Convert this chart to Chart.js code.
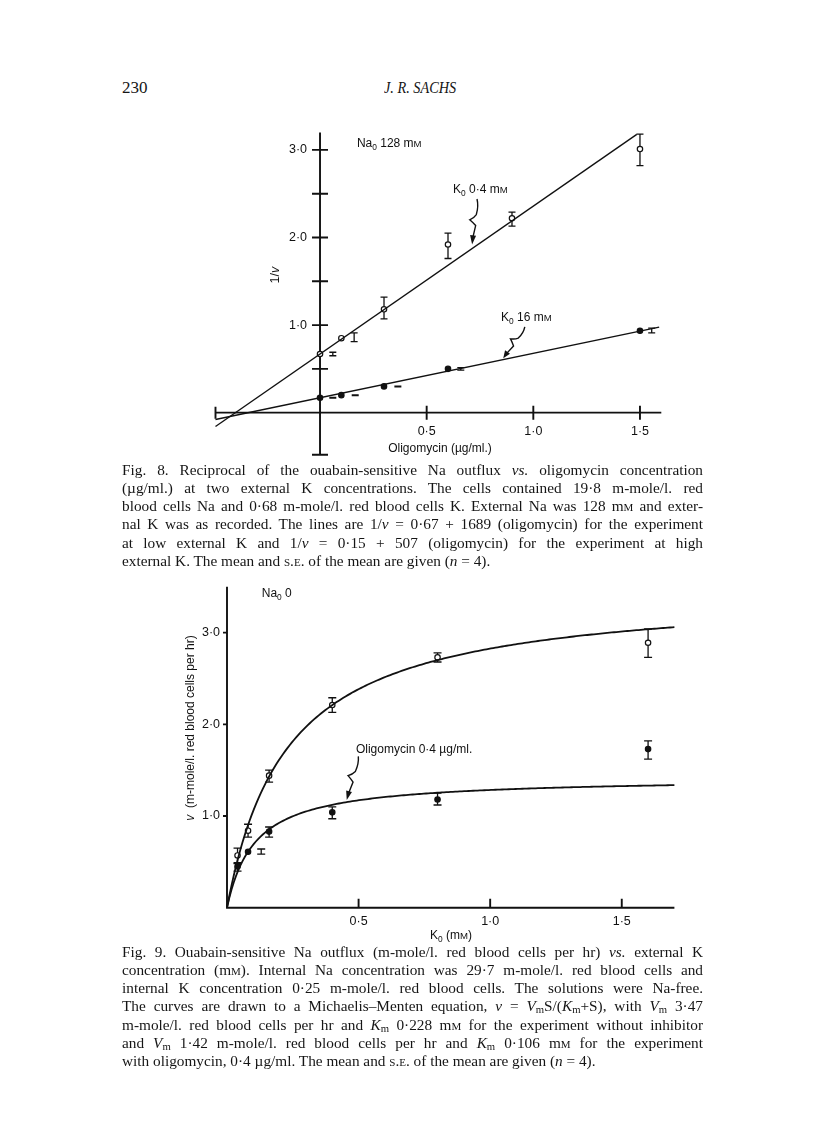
<!DOCTYPE html>
<html>
<head>
<meta charset="utf-8">
<script src="https://cdn.jsdelivr.net/npm/chart.js@4.4.0/dist/chart.umd.min.js"></script>
<style>
body { margin: 0; background: #fff; width: 816px; height: 1127px; position: relative; overflow: hidden; font-family: "Liberation Serif", "DejaVu Serif", serif; color: #151515; }
#fig8 { position: absolute; left: 190px; top: 120px; }
#fig9 { position: absolute; left: 170px; top: 575px; }
.head { position: absolute; top: 78px; font-size: 17px; }
.cap { position: absolute; left: 122px; width: 581px; font-size: 15.3px; line-height: 18.15px; }
.cap div { text-align: justify; text-align-last: justify; white-space: nowrap; }
.cap div.last { text-align-last: left; }
.sc { font-variant: small-caps; }
sub { font-size: 0.7em; line-height: 0; vertical-align: -0.2em; }
</style>
</head>
<body>
<div class="head" style="left:122px">230</div>
<div class="head" style="left:384px; font-style:italic; transform:scaleX(0.84); transform-origin:left">J. R. SACHS</div>

<canvas id="fig8" width="500" height="350"></canvas>

<div class="cap" style="top:461px">
  <div>Fig. 8. Reciprocal of the ouabain-sensitive Na outflux <i>vs.</i> oligomycin concentration</div>
  <div>(µg/ml.) at two external K concentrations. The cells contained 19·8 m-mole/l. red</div>
  <div>blood cells Na and 0·68 m-mole/l. red blood cells K. External Na was 128 m<span class="sc">m</span> and exter-</div>
  <div>nal K was as recorded. The lines are 1/<i>v</i> = 0·67 + 1689 (oligomycin) for the experiment</div>
  <div>at low external K and 1/<i>v</i> = 0·15 + 507 (oligomycin) for the experiment at high</div>
  <div class="last">external K. The mean and <span class="sc">s.e.</span> of the mean are given (<i>n</i> = 4).</div>
</div>

<canvas id="fig9" width="530" height="375"></canvas>

<div class="cap" style="top:943px">
  <div>Fig. 9. Ouabain-sensitive Na outflux (m-mole/l. red blood cells per hr) <i>vs.</i> external K</div>
  <div>concentration (m<span class="sc">m</span>). Internal Na concentration was 29·7 m-mole/l. red blood cells and</div>
  <div>internal K concentration 0·25 m-mole/l. red blood cells. The solutions were Na-free.</div>
  <div>The curves are drawn to a Michaelis–Menten equation, <i>v</i> = <i>V</i><sub>m</sub>S/(<i>K</i><sub>m</sub>+S), with <i>V</i><sub>m</sub> 3·47</div>
  <div>m-mole/l. red blood cells per hr and <i>K</i><sub>m</sub> 0·228 m<span class="sc">m</span> for the experiment without inhibitor</div>
  <div>and <i>V</i><sub>m</sub> 1·42 m-mole/l. red blood cells per hr and <i>K</i><sub>m</sub> 0·106 m<span class="sc">m</span> for the experiment</div>
  <div class="last">with oligomycin, 0·4 µg/ml. The mean and <span class="sc">s.e.</span> of the mean are given (<i>n</i> = 4).</div>
</div>

<script>
// ---- Fig. 8 data (1/v vs oligomycin, ug/ml) ----
const oligoLowK = [0, 0.1, 0.3, 0.6, 0.9, 1.5];
const recipLowK = [0.67, 0.85, 1.18, 1.92, 2.22, 3.01];
const recipLowKLo = [0.65, 0.81, 1.07, 1.76, 2.13, 2.82];
const recipLowKHi = [0.69, 0.91, 1.32, 2.05, 2.29, 3.18];
const recipLowKErrX = [0.06, 0.16, 0.3, 0.6, 0.9, 1.5]; // bars are printed offset for some points

const oligoHighK = [0, 0.1, 0.3, 0.6, 1.5];
const recipHighK = [0.17, 0.2, 0.3, 0.5, 0.935];
const recipHighKLo = [0.166, 0.196, 0.296, 0.485, 0.91];
const recipHighKHi = [0.174, 0.204, 0.304, 0.515, 0.965];
const recipHighKErrX = [0.06, 0.165, 0.365, 0.66, 1.555];

const fitLowK = [0.67, 1.689];   // intercept, slope
const fitHighK = [0.17, 0.507];
const fitLowKRange = [-0.49, 1.485];
const fitHighKRange = [-0.49, 1.59];

const fig8XTicks = [0.5, 1.0, 1.5];
const fig8XLabels = ['0·5', '1·0', '1·5'];
const fig8YTicks = [0.5, 1.0, 1.5, 2.0, 2.5, 3.0];
const fig8YLabels = ['', '1·0', '', '2·0', '', '3·0'];

// ---- Fig. 9 data (v vs external K, mM) ----
const kConc = [0.04, 0.08, 0.16, 0.4, 0.8, 1.6];
const fluxControl = [0.57, 0.84, 1.44, 2.21, 2.73, 2.89];
const fluxControlLo = [0.48, 0.77, 1.37, 2.13, 2.68, 2.73];
const fluxControlHi = [0.65, 0.91, 1.50, 2.29, 2.78, 3.04];
const fluxOligo = [0.45, 0.61, 0.83, 1.04, 1.18, 1.73];
const fluxOligoLo = [0.40, 0.585, 0.77, 0.97, 1.12, 1.62];
const fluxOligoHi = [0.49, 0.64, 0.88, 1.10, 1.25, 1.82];
const fluxOligoErrX = [0.04, 0.13, 0.16, 0.4, 0.8, 1.6];

const mmControl = [3.47, 0.228]; // Vm, Km from the legend
const mmOligo = [1.42, 0.106];
const curveRange = [0, 1.7];

const fig9XTicks = [0.5, 1.0, 1.5];
const fig9XLabels = ['0·5', '1·0', '1·5'];
const fig9YTicks = [1.0, 2.0, 3.0];
const fig9YLabels = ['1·0', '2·0', '3·0'];

const INK = '#111';
const SANS = '"Liberation Sans", Arial, sans-serif';

// squeeze any caption line that would spill past the measure
document.querySelectorAll('.cap div').forEach(d => {
    let fs = 15.3;
    while (d.scrollWidth > 581 && fs > 12) {
        fs -= 0.1;
        d.style.fontSize = fs + 'px';
    }
});

function pts(xs, ys) {
    return xs.map((x, i) => ({ x: x, y: ys[i] }));
}

function fitLine(fit, range) {
    return range.map(x => ({ x: x, y: fit[0] + fit[1] * x }));
}

function mmCurve(p) {
    const out = [];
    for (let i = 0; i <= 200; i++) {
        const s = curveRange[0] + (curveRange[1] - curveRange[0]) * i / 200;
        out.push({ x: s, y: p[0] * s / (p[1] + s) });
    }
    return out;
}

// text with subscripts / small caps / italics on canvas
function richText(ctx, x, y, segs, size, align) {
    const fontFor = s => (s.it ? 'italic ' : '') +
        (s.sub ? size * 0.7 : s.sc ? size * 0.8 : size) + 'px ' + SANS;
    let w = 0;
    segs.forEach(s => { ctx.font = fontFor(s); w += ctx.measureText(s.t).width; });
    let cx = align === 'center' ? x - w / 2 : x;
    ctx.textAlign = 'left';
    segs.forEach(s => {
        ctx.font = fontFor(s);
        ctx.fillText(s.t, cx, y + (s.sub ? size * 0.25 : 0));
        cx += ctx.measureText(s.t).width;
    });
}

function squiggleArrow(ctx, x0, y0, x1, y1) {
    const dx = x1 - x0, dy = y1 - y0, L = Math.hypot(dx, dy);
    const ux = dx / L, uy = dy / L, nx = -uy, ny = ux;
    const P = (t, n) => [x0 + ux * L * t + nx * n, y0 + uy * L * t + ny * n];
    ctx.beginPath();
    ctx.moveTo(x0, y0);
    ctx.quadraticCurveTo(...P(0.15, -2.5), ...P(0.34, -1));
    ctx.quadraticCurveTo(...P(0.42, 1), ...P(0.47, 5));
    ctx.quadraticCurveTo(...P(0.53, 1), ...P(0.58, -1.5));
    ctx.lineTo(...P(0.85, 0));
    ctx.lineWidth = 1.4;
    ctx.strokeStyle = INK;
    ctx.stroke();
    // head
    const b = P(0.8, 0);
    ctx.beginPath();
    ctx.moveTo(x1, y1);
    ctx.lineTo(b[0] + nx * 3, b[1] + ny * 3);
    ctx.lineTo(b[0] - nx * 3, b[1] - ny * 3);
    ctx.closePath();
    ctx.fillStyle = INK;
    ctx.fill();
}

function errorBars(ctx, xs, lo, hi, xScale, yScale, cap) {
    ctx.strokeStyle = INK;
    ctx.lineWidth = 1.3;
    xs.forEach((x, i) => {
        const px = xScale.getPixelForValue(x);
        const a = yScale.getPixelForValue(lo[i]);
        const b = yScale.getPixelForValue(hi[i]);
        ctx.beginPath();
        ctx.moveTo(px, a); ctx.lineTo(px, b);
        ctx.moveTo(px - cap, a); ctx.lineTo(px + cap, a);
        ctx.moveTo(px - cap, b); ctx.lineTo(px + cap, b);
        ctx.stroke();
    });
}

const pointStyle = (fill) => ({
    type: 'scatter', showLine: false,
    pointRadius: 2.7, pointBorderWidth: 1.2,
    pointBackgroundColor: fill, pointBorderColor: INK, clip: false
});

const lineStyle = { type: 'scatter', showLine: true, pointRadius: 0, borderColor: INK, borderWidth: 1.4, clip: false };

// ---------- Fig. 8 ----------
const fig8Decor = {
    id: 'fig8Decor',
    beforeDatasetsDraw(chart) {
        const ctx = chart.ctx, xs = chart.scales.x, ys = chart.scales.y;
        const ax = xs.getPixelForValue(0), ay = ys.getPixelForValue(0);
        ctx.save();
        ctx.strokeStyle = INK;
        ctx.fillStyle = INK;
        ctx.lineWidth = 1.9;
        ctx.beginPath();
        // axes crossing at the origin
        ctx.moveTo(xs.left, ay); ctx.lineTo(xs.right, ay);
        ctx.moveTo(ax, ys.top); ctx.lineTo(ax, ys.bottom);
        // end caps on the negative ends
        ctx.moveTo(xs.left, ay - 6); ctx.lineTo(xs.left, ay + 6);
        ctx.moveTo(ax - 8, ys.bottom); ctx.lineTo(ax + 8, ys.bottom);
        fig8YTicks.forEach(v => {
            const py = ys.getPixelForValue(v);
            ctx.moveTo(ax - 8, py); ctx.lineTo(ax + 8, py);
        });
        fig8XTicks.forEach(v => {
            const px = xs.getPixelForValue(v);
            ctx.moveTo(px, ay - 7); ctx.lineTo(px, ay + 7);
        });
        ctx.stroke();

        ctx.font = '12.5px ' + SANS;
        ctx.textBaseline = 'middle';
        ctx.textAlign = 'right';
        fig8YTicks.forEach((v, i) => ctx.fillText(fig8YLabels[i], ax - 13, ys.getPixelForValue(v)));
        ctx.textAlign = 'center';
        fig8XTicks.forEach((v, i) => ctx.fillText(fig8XLabels[i], xs.getPixelForValue(v), ay + 19));

        ctx.textBaseline = 'alphabetic';
        richText(ctx, xs.getPixelForValue(0.5625), ay + 39, [{ t: 'Oligomycin (µg/ml.)' }], 12, 'center');
        ctx.save();
        ctx.translate(ax - 45, ys.getPixelForValue(1.57));
        ctx.rotate(-Math.PI / 2);
        richText(ctx, 0, 4, [{ t: '1/' }, { t: 'v', it: true }], 12.5, 'center');
        ctx.restore();

        richText(ctx, xs.getPixelForValue(0.173), ys.getPixelForValue(3.03),
            [{ t: 'Na' }, { t: '0', sub: true }, { t: ' 128 m' }, { t: 'M', sc: true }], 12);
        richText(ctx, xs.getPixelForValue(0.624), ys.getPixelForValue(2.506),
            [{ t: 'K' }, { t: '0', sub: true }, { t: ' 0·4 m' }, { t: 'M', sc: true }], 12);
        richText(ctx, xs.getPixelForValue(0.849), ys.getPixelForValue(1.047),
            [{ t: 'K' }, { t: '0', sub: true }, { t: ' 16 m' }, { t: 'M', sc: true }], 12);

        squiggleArrow(ctx, xs.getPixelForValue(0.736), ys.getPixelForValue(2.44),
            xs.getPixelForValue(0.713), ys.getPixelForValue(1.92));
        squiggleArrow(ctx, xs.getPixelForValue(0.96), ys.getPixelForValue(0.98),
            xs.getPixelForValue(0.859), ys.getPixelForValue(0.62));

        errorBars(ctx, recipLowKErrX, recipLowKLo, recipLowKHi, xs, ys, 3.5);
        errorBars(ctx, recipHighKErrX, recipHighKLo, recipHighKHi, xs, ys, 3.5);
        ctx.restore();
    }
};

new Chart(document.getElementById('fig8'), {
    data: {
        datasets: [
            Object.assign({ data: fitLine(fitLowK, fitLowKRange) }, lineStyle),
            Object.assign({ data: fitLine(fitHighK, fitHighKRange) }, lineStyle),
            Object.assign({ data: pts(oligoLowK, recipLowK) }, pointStyle('#fff')),
            Object.assign({ data: pts(oligoHighK, recipHighK) }, pointStyle(INK))
        ]
    },
    options: {
        responsive: false, animation: false, devicePixelRatio: 1, events: [],
        layout: { padding: { left: 25.5, right: 28.7, top: 12.4, bottom: 15.3 } },
        plugins: { legend: { display: false }, tooltip: { enabled: false } },
        scales: {
            x: { type: 'linear', min: -0.49, max: 1.6, display: false },
            y: { type: 'linear', min: -0.48, max: 3.2, display: false }
        }
    },
    plugins: [fig8Decor]
});

// ---------- Fig. 9 ----------
const fig9Decor = {
    id: 'fig9Decor',
    beforeDatasetsDraw(chart) {
        const ctx = chart.ctx, xs = chart.scales.x, ys = chart.scales.y;
        const ax = xs.getPixelForValue(0), ay = ys.getPixelForValue(0);
        ctx.save();
        ctx.strokeStyle = INK;
        ctx.fillStyle = INK;
        ctx.lineWidth = 1.9;
        ctx.beginPath();
        ctx.moveTo(ax, ys.top); ctx.lineTo(ax, ay); ctx.lineTo(xs.right, ay);
        fig9YTicks.forEach(v => {
            const py = ys.getPixelForValue(v);
            ctx.moveTo(ax - 4, py); ctx.lineTo(ax, py);
        });
        fig9XTicks.forEach(v => {
            const px = xs.getPixelForValue(v);
            ctx.moveTo(px, ay - 9); ctx.lineTo(px, ay);
        });
        ctx.stroke();

        ctx.font = '12.5px ' + SANS;
        ctx.textBaseline = 'middle';
        ctx.textAlign = 'right';
        fig9YTicks.forEach((v, i) => ctx.fillText(fig9YLabels[i], ax - 7, ys.getPixelForValue(v)));
        ctx.textAlign = 'center';
        fig9XTicks.forEach((v, i) => ctx.fillText(fig9XLabels[i], xs.getPixelForValue(v), ay + 14));

        ctx.textBaseline = 'alphabetic';
        richText(ctx, xs.getPixelForValue(0.851), ay + 31,
            [{ t: 'K' }, { t: '0', sub: true }, { t: ' (m' }, { t: 'M', sc: true }, { t: ')' }], 12, 'center');
        ctx.save();
        ctx.translate(ax - 37, ys.getPixelForValue(1.96));
        ctx.rotate(-Math.PI / 2);
        richText(ctx, 0, 4, [{ t: 'v', it: true }, { t: '  (m-mole/l. red blood cells per hr)' }], 12, 'center');
        ctx.restore();

        richText(ctx, xs.getPixelForValue(0.132), ys.getPixelForValue(3.39),
            [{ t: 'Na' }, { t: '0', sub: true }, { t: ' 0' }], 12);
        richText(ctx, xs.getPixelForValue(0.49), ys.getPixelForValue(1.685),
            [{ t: 'Oligomycin 0·4 µg/ml.' }], 12);

        squiggleArrow(ctx, xs.getPixelForValue(0.499), ys.getPixelForValue(1.65),
            xs.getPixelForValue(0.455), ys.getPixelForValue(1.175));

        errorBars(ctx, kConc, fluxControlLo, fluxControlHi, xs, ys, 4);
        errorBars(ctx, fluxOligoErrX, fluxOligoLo, fluxOligoHi, xs, ys, 4);
        ctx.restore();
    }
};

const curveStyle = Object.assign({}, lineStyle, { borderWidth: 1.8, tension: 0 });

new Chart(document.getElementById('fig9'), {
    data: {
        datasets: [
            Object.assign({ data: mmCurve(mmControl) }, curveStyle),
            Object.assign({ data: mmCurve(mmOligo) }, curveStyle),
            Object.assign({ data: pts(kConc, fluxControl) }, pointStyle('#fff')),
            Object.assign({ data: pts(kConc, fluxOligo) }, pointStyle(INK))
        ]
    },
    options: {
        responsive: false, animation: false, devicePixelRatio: 1, events: [],
        layout: { padding: { left: 57, right: 25.6, top: 11.8, bottom: 42.3 } },
        plugins: { legend: { display: false }, tooltip: { enabled: false } },
        scales: {
            x: { type: 'linear', min: 0, max: 1.7, display: false },
            y: { type: 'linear', min: 0, max: 3.5, display: false }
        }
    },
    plugins: [fig9Decor]
});
</script>
</body>
</html>
